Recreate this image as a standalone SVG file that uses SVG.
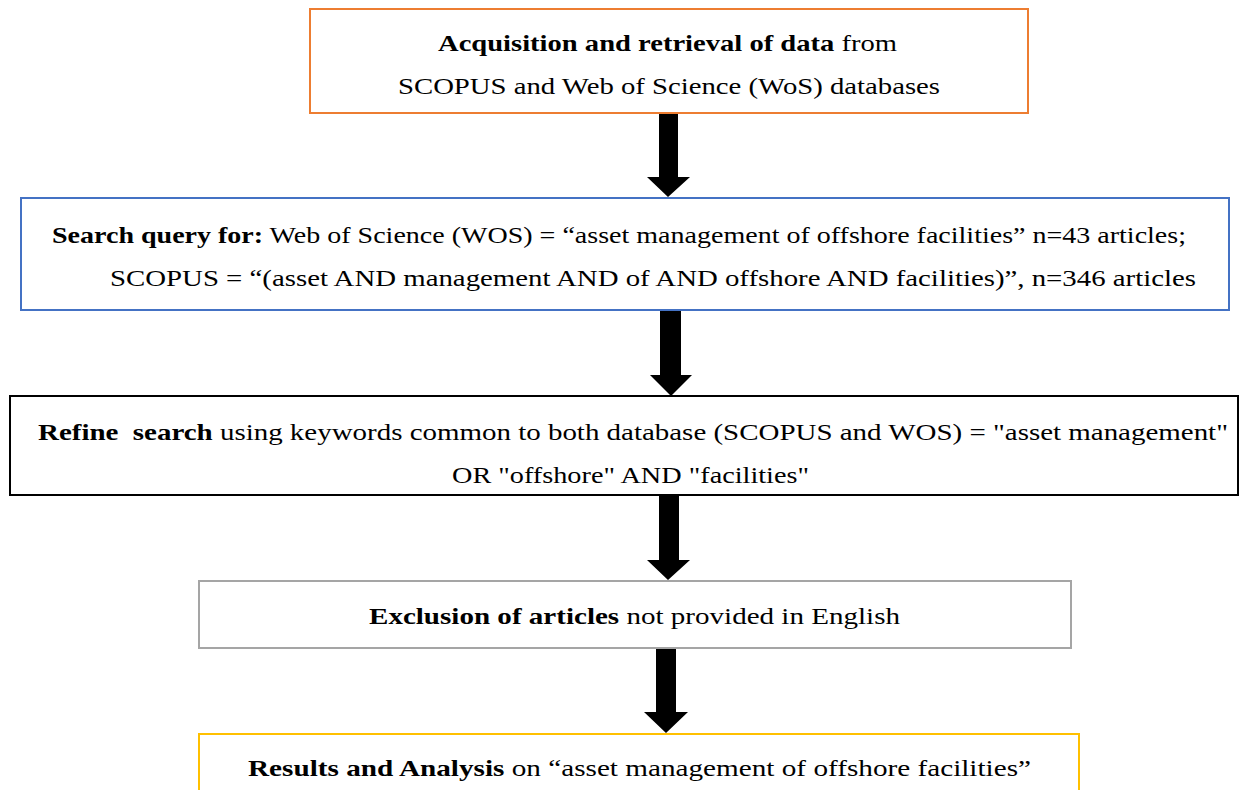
<svg xmlns="http://www.w3.org/2000/svg" width="1248" height="790" viewBox="0 0 1248 790">
<style>
.box{fill:#fff;stroke-width:2}
.t{font-family:"Liberation Serif","Times New Roman",serif;font-size:23px;fill:#000}
.b{font-weight:bold}
.arr{fill:#000}
</style>
<rect width="1248" height="790" fill="#fff"/>
<g id="connectors">
<path class="arr" d="M659,113 H678 V177 H690 L668,197 L647,177 H659 Z"/>
<path class="arr" d="M660,310 H681 V375 H692 L671,396 L650,375 H660 Z"/>
<path class="arr" d="M659,495 H679 V560 H690 L668,580 L647,560 H659 Z"/>
<path class="arr" d="M656,648 H676 V712 H688 L666,733 L644,712 H656 Z"/>
</g>
<g id="n1">
<rect class="box" x="310" y="9" width="718" height="104" stroke="#ED7D31"/>
<text class="t" x="438" y="51" textLength="459" lengthAdjust="spacingAndGlyphs"><tspan class="b">Acquisition and retrieval of data</tspan> from</text>
<text class="t" x="398" y="94" textLength="542" lengthAdjust="spacingAndGlyphs">SCOPUS and Web of Science (WoS) databases</text>
</g>
<g id="n2">
<rect class="box" x="21" y="198" width="1208" height="112" stroke="#4472C4"/>
<text class="t" x="52" y="243" textLength="1134" lengthAdjust="spacingAndGlyphs"><tspan class="b">Search query for:</tspan> Web of Science (WOS) = “asset management of offshore facilities” n=43 articles;</text>
<text class="t" x="110" y="286" textLength="1086" lengthAdjust="spacingAndGlyphs">SCOPUS = “(asset AND management AND of AND offshore AND facilities)”, n=346 articles</text>
</g>
<g id="n3">
<rect class="box" x="10" y="396" width="1228" height="99" stroke="#000"/>
<text class="t" x="38" y="440" textLength="1190" lengthAdjust="spacingAndGlyphs"><tspan class="b">Refine&#160; search</tspan> using keywords common to both database (SCOPUS and WOS) = "asset management"</text>
<text class="t" x="452" y="483" textLength="357" lengthAdjust="spacingAndGlyphs">OR "offshore" AND "facilities"</text>
</g>
<g id="n4">
<rect class="box" x="199" y="581" width="872" height="67" stroke="#A5A5A5"/>
<text class="t" x="369" y="624" textLength="531" lengthAdjust="spacingAndGlyphs"><tspan class="b">Exclusion of articles</tspan> not provided in English</text>
</g>
<g id="n5">
<rect class="box" x="199" y="734" width="880" height="70" stroke="#FFC000"/>
<text class="t" x="248" y="776" textLength="783" lengthAdjust="spacingAndGlyphs"><tspan class="b">Results and Analysis</tspan> on “asset management of offshore facilities”</text>
</g>
</svg>
